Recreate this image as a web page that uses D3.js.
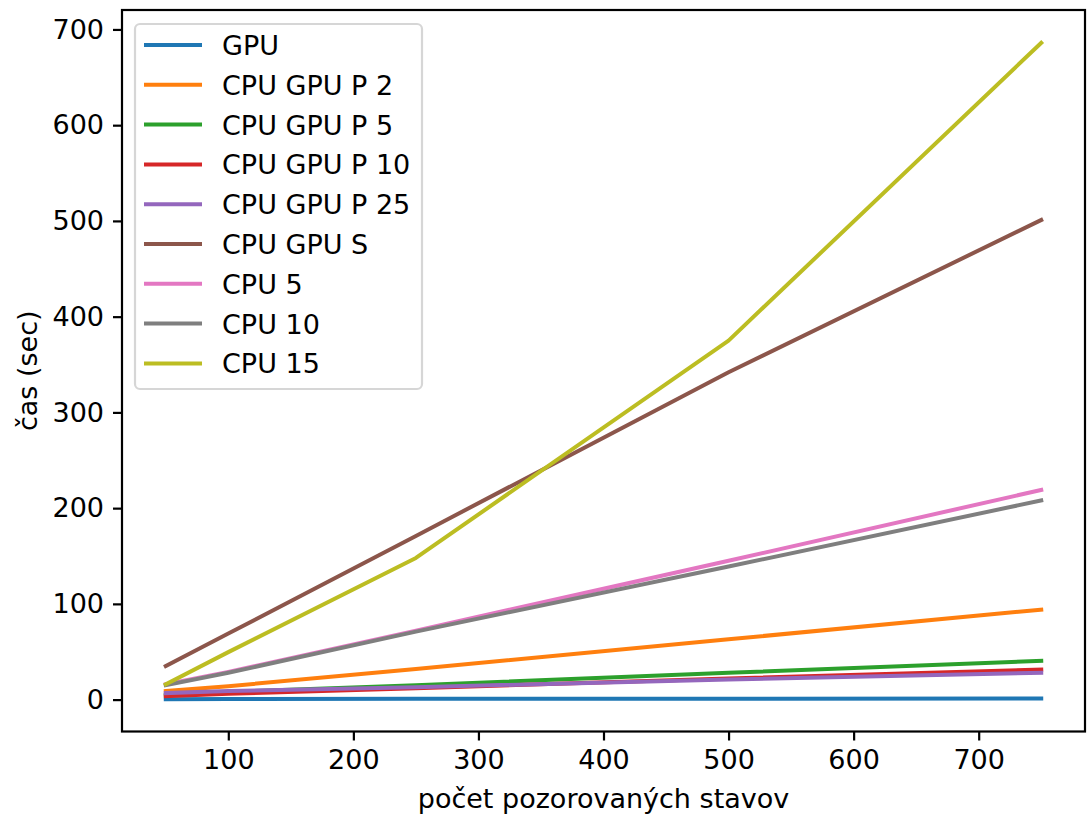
<!DOCTYPE html>
<html><head><meta charset="utf-8">
<script src="https://cdn.jsdelivr.net/npm/d3@7"></script>
<style>body{margin:0;background:#fff;} text{font-family:"DejaVu Sans",sans-serif;}</style>
</head><body><svg id="c" width="1089" height="814"></svg>
<script>
const xValues = [50, 100, 250, 500, 750];
const seriesNames = ["GPU","CPU GPU P 2","CPU GPU P 5","CPU GPU P 10","CPU GPU P 25","CPU GPU S","CPU 5","CPU 10","CPU 15"];
const gpu      = [0.5, 0.6, 0.8, 1.0, 1.2];
const cpuGpuP2 = [9, 14, 32, 63, 94];
const cpuGpuP5 = [5, 8, 15, 28, 40.5];
const cpuGpuP10 = [3.7, 6, 12, 22, 31.5];
const cpuGpuP25 = [6.8, 9, 13, 21, 28];
const cpuGpuS  = [35, 69, 171, 342, 501];
const cpu5     = [16, 29, 72, 145, 219];
const cpu10    = [15, 28, 71, 139, 208];
const cpu15    = [16, 49.6, 148, 375, 686];
const xTicks = [100,200,300,400,500,600,700];
const yTicks = [0,100,200,300,400,500,600,700];
const colors = ["#1f77b4","#ff7f0e","#2ca02c","#d62728","#9467bd","#8c564b","#e377c2","#7f7f7f","#bcbd22"];
const allSeries = [gpu,cpuGpuP2,cpuGpuP5,cpuGpuP10,cpuGpuP25,cpuGpuS,cpu5,cpu10,cpu15];

const FS = 27;
const svg = d3.select("#c");
const L=122, R=1085, T=10, B=731.5;
const x = d3.scaleLinear().domain([15,785]).range([L,R]);
const y = d3.scaleLinear().domain([-33.3,720.3]).range([B,T]);

const g = svg.append("g");
const line = d3.line().x((d,i)=>x(xValues[i])).y(d=>y(d));
allSeries.forEach((s,k)=>{
  g.append("path").attr("d",line(s)).attr("fill","none").attr("stroke",colors[k])
   .attr("stroke-width",4).attr("stroke-linecap","square").attr("stroke-linejoin","round");
});

const xa = svg.append("g").attr("transform",`translate(0,${B})`)
  .call(d3.axisBottom(x).tickValues(xTicks).tickSize(9).tickPadding(9).tickFormat(d3.format("d")));
const ya = svg.append("g").attr("transform",`translate(${L},0)`)
  .call(d3.axisLeft(y).tickValues(yTicks).tickSize(9).tickPadding(9).tickFormat(d3.format("d")));
[xa,ya].forEach(a=>{
  a.select(".domain").remove();
  a.selectAll("line").attr("stroke","#000").attr("stroke-width",2.2);
  a.selectAll("text").attr("font-size",FS).attr("fill","#000").attr("font-family","DejaVu Sans");
});
svg.append("rect").attr("x",L).attr("y",T).attr("width",R-L).attr("height",B-T)
  .attr("fill","none").attr("stroke","#000").attr("stroke-width",2.2);

svg.append("text").attr("x",(L+R)/2).attr("y",808).attr("text-anchor","middle")
  .attr("font-size",FS).text("počet pozorovaných stavov");
svg.append("text").attr("transform",`translate(37,${(T+B)/2}) rotate(-90)`).attr("text-anchor","middle")
  .attr("font-size",FS).text("čas (sec)");

const lg = svg.append("g");
lg.append("rect").attr("x",135).attr("y",24).attr("width",287).attr("height",365).attr("rx",5)
  .attr("fill","#fff").attr("fill-opacity",0.8).attr("stroke","#d6d6d6").attr("stroke-width",2.2);
seriesNames.forEach((n,k)=>{
  const yy = 45 + k*39.8;
  lg.append("line").attr("x1",144).attr("x2",202).attr("y1",yy).attr("y2",yy)
    .attr("stroke",colors[k]).attr("stroke-width",4);
  lg.append("text").attr("x",222).attr("y",yy+10).attr("font-size",FS).text(n);
});
</script></body></html>
